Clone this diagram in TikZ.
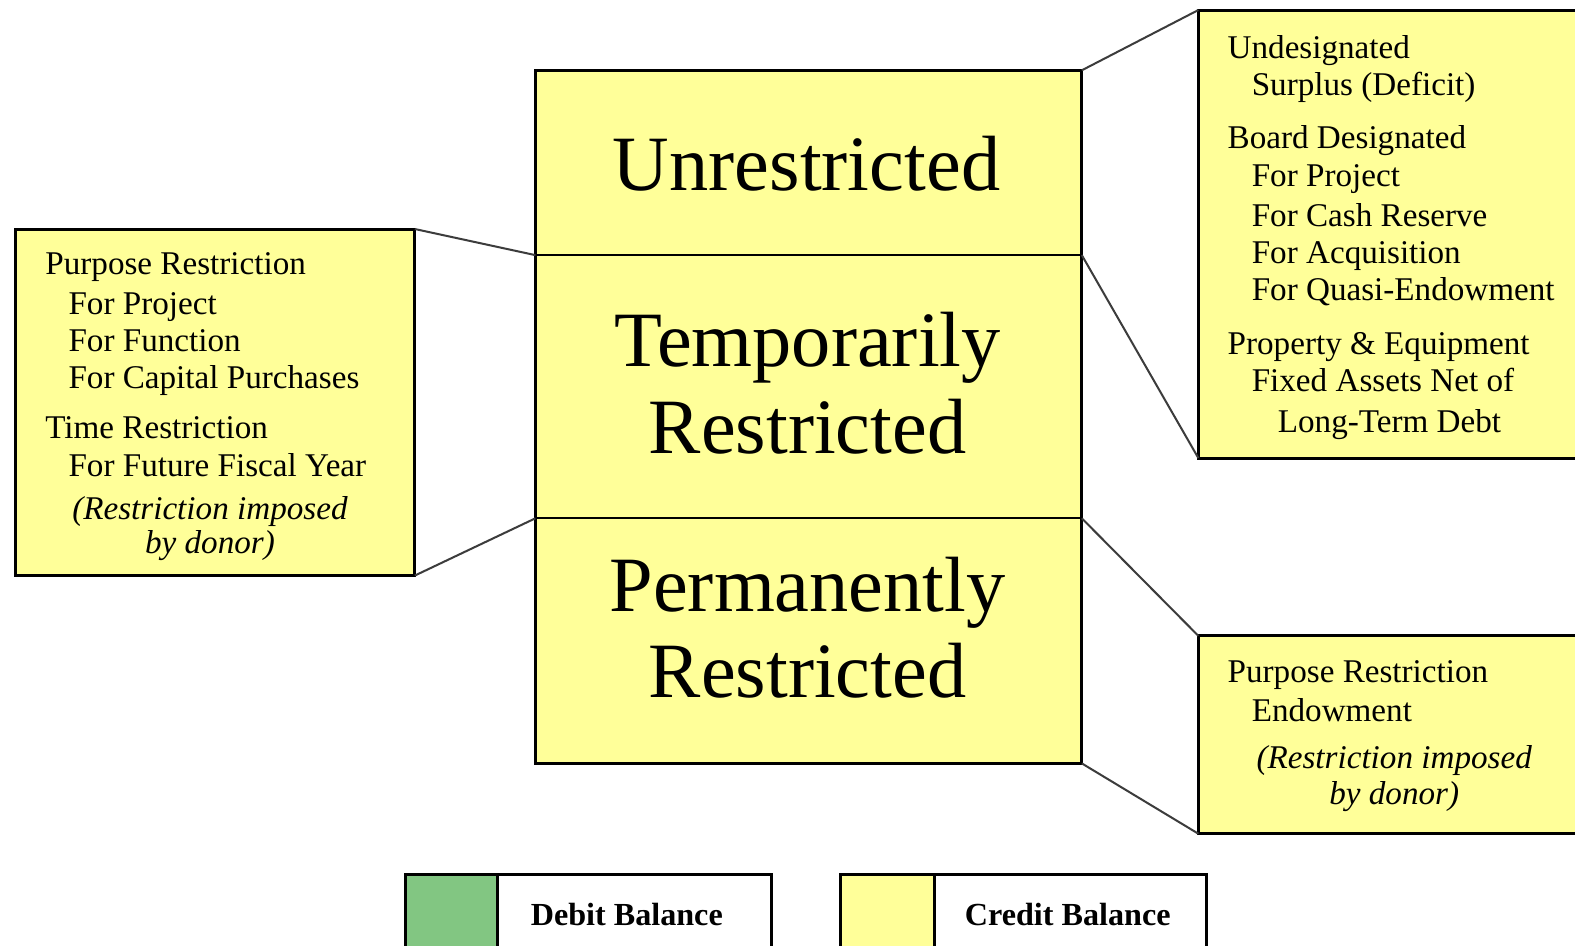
\documentclass[tikz,border=0pt]{standalone}
\usepackage{fontspec}
\setmainfont{Liberation Serif}
\definecolor{paleyellow}{RGB}{255,255,153}
\definecolor{debitgreen}{RGB}{130,198,130}
\definecolor{linkgray}{RGB}{60,60,60}
\begin{document}
\begin{tikzpicture}[x=1pt,y=-1pt,
  panel/.style={draw=black, line width=3pt, fill=paleyellow, inner sep=0pt, outer sep=0pt, anchor=north west},
  band/.style={draw=black, line width=2pt, fill=paleyellow, inner sep=0pt, outer sep=0pt, anchor=north west, minimum width=544pt},
  swatch/.style={draw=black, line width=3pt, inner sep=0pt, outer sep=0pt, anchor=north west, minimum height=90pt},
  big/.style={font=\fontsize{78}{85}\selectfont, anchor=base, inner sep=0pt},
  small/.style={font=\fontsize{33}{37}\selectfont, anchor=base west, inner sep=0pt},
  note/.style={font=\fontsize{33}{34}\selectfont\itshape, anchor=base, inner sep=0pt},
  legendtext/.style={font=\fontsize{32}{34}\selectfont\bfseries, anchor=base, inner sep=0pt},
  link/.style={draw=linkgray, line width=2pt}]
\useasboundingbox (0,0) rectangle (1568,941);
\clip (0,0) rectangle (1568,941);
\fill[white] (0,0) rectangle (1568,941);

% central stack
\node[band, minimum height=184pt] (unres) at (533,70) {};
\node[band, minimum height=262pt] (temp) at (533,254) {};
\node[band, minimum height=244pt] (perm) at (533,516) {};
\draw[black, line width=3pt] (unres.north west) rectangle (perm.south east);

% side boxes
\node[panel, minimum width=398pt, minimum height=345pt] (tempnote) at (15,228) {};
\node[panel, minimum width=400pt, minimum height=446pt] (unresnote) at (1193,10) {};
\node[panel, minimum width=400pt, minimum height=197pt] (permnote) at (1193,633) {};

% connectors
\draw[link] (tempnote.north east) -- (temp.north west);
\draw[link] (tempnote.south east) -- (temp.south west);
\draw[link] (unresnote.north west) -- (unres.north east);
\draw[link] (unresnote.south west) -- (unres.south east);
\draw[link] (permnote.north west) -- (perm.north east);
\draw[link] (permnote.south west) -- (perm.south east);

% big labels
\node[big] (bU) at (803,190) {Unrestricted};
\node[big] (bT1) at (804,365) {Temporarily};
\node[big] (bT2) at (804,451) {Restricted};
\node[big] (bP1) at (804,609) {Permanently};
\node[big] (bP2) at (804,694) {Restricted};

% left box text
\node[small] (l1) at (45,273) {Purpose Restriction};
\node[small] (l2) at (68,313) {For Project};
\node[small] (l3) at (68,350) {For Function};
\node[small] (l4) at (68,387) {For Capital Purchases};
\node[small] (l5) at (45,437) {Time Restriction};
\node[small] (l6) at (68,474) {For Future Fiscal Year};
\node[note] (l7) at (209,517) {(Restriction imposed};
\node[note] (l8) at (209,551) {by donor)};

% right top box text
\node[small] (r1) at (1222,58) {Undesignated};
\node[small] (r2) at (1246,95) {Surplus (Deficit)};
\node[small] (r3) at (1222,148) {Board Designated};
\node[small] (r4) at (1246,186) {For Project};
\node[small] (r5) at (1246,225) {For Cash Reserve};
\node[small] (r6) at (1246,262) {For Acquisition};
\node[small] (r7) at (1246,299) {For Quasi-Endowment};
\node[small] (r8) at (1222,353) {Property \& Equipment};
\node[small] (r9) at (1246,390) {Fixed Assets Net of};
\node[small] (r10) at (1272,431) {Long-Term Debt};

% right bottom box text
\node[small] (p1) at (1222,679) {Purpose Restriction};
\node[small] (p2) at (1246,718) {Endowment};
\node[note] (p3) at (1388,765) {(Restriction imposed};
\node[note] (p4) at (1388,801) {by donor)};

% legend
\node[swatch, fill=debitgreen, minimum width=91pt] (debitsw) at (404,871) {};
\node[swatch, fill=white, minimum width=273pt] (debitbox) at (debitsw.north east) {};
\node[swatch, fill=paleyellow, minimum width=93pt] (creditsw) at (837,871) {};
\node[swatch, fill=white, minimum width=271pt] (creditbox) at (creditsw.north east) {};
\node[legendtext] (debitlbl) at (624,921) {Debit Balance};
\node[legendtext] (creditlbl) at (1063,921) {Credit Balance};
\end{tikzpicture}
\end{document}
